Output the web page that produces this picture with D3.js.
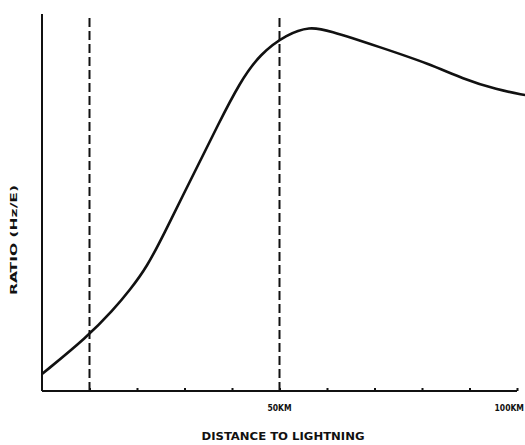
<!DOCTYPE html>
<html><head><meta charset="utf-8">
<script src="https://cdn.jsdelivr.net/npm/d3@7"></script>
<style>body{margin:0;background:#fff}svg{display:block}</style>
</head><body>
<script>
// Data
const distanceKm = [0, 9.5, 15.0, 18.5, 22.1, 25.9, 29.7, 33.3, 36.8, 41.7, 45.9, 51.6, 56.4, 60.0, 71.2, 81.7, 88.6, 95.8, 101.7];
const ratioValues = [4.5, 14.3, 21.5, 26.8, 32.9, 42.2, 52.0, 61.0, 70.0, 82.0, 89.4, 94.7, 96.6, 95.8, 91.2, 86.7, 82.8, 79.9, 78.5];
const tickKm = [10, 20, 30, 40, 50, 60, 70, 80, 90, 100];
const tickLabels = [{km: 50, text: "50KM"}, {km: 100, text: "100KM"}];
const markerKm = [10, 50];
const xTitle = "DISTANCE TO LIGHTNING";
const yTitle = "RATIO  (Hz/E)";

const W = 525, H = 445;
const svg = d3.select("body").append("svg").attr("width", W).attr("height", H);

const x = d3.scaleLinear().domain([0, 100]).range([42, 517]);
const y = d3.scaleLinear().domain([0, 100]).range([391, 14]);

const ink = "#111";

// dashed markers
svg.selectAll("line.marker").data(markerKm).join("line")
  .attr("class", "marker")
  .attr("x1", d => x(d)).attr("x2", d => x(d))
  .attr("y1", y(0)).attr("y2", 18)
  .attr("stroke", ink).attr("stroke-width", 2)
  .attr("stroke-dasharray", "9,4");

// axes
const xAxis = d3.axisBottom(x).tickValues(tickKm).tickSize(-3).tickFormat("");
const gx = svg.append("g").attr("transform", `translate(0,${y(0)})`).call(xAxis);
gx.select(".domain").attr("d", `M${x(0)},0H${x(100)}`).attr("stroke", ink).attr("stroke-width", 2.2);
gx.selectAll(".tick line").attr("stroke", ink).attr("stroke-width", 2);

const yAxis = d3.axisLeft(y).tickValues([]).tickSize(0);
const gy = svg.append("g").attr("transform", `translate(${x(0)},0)`).call(yAxis);
gy.select(".domain").attr("d", `M0,${y(0)}V${y(100)}`).attr("stroke", ink).attr("stroke-width", 2);

// tick labels
svg.selectAll("text.tl").data(tickLabels).join("text")
  .attr("class", "tl")
  .attr("x", d => d.km === 100 ? W - 1 : x(d.km)).attr("y", 411)
  .attr("text-anchor", d => d.km === 100 ? "end" : "middle")
  .attr("font-family", "'DejaVu Sans Condensed', 'DejaVu Sans', sans-serif")
  .attr("font-weight", "bold").attr("font-size", 8.5)
  .attr("fill", ink)
  .text(d => d.text);

// curve
const line = d3.line().x((d, i) => x(distanceKm[i])).y(d => y(d)).curve(d3.curveBasis);
svg.append("path").datum(ratioValues)
  .attr("d", line).attr("fill", "none")
  .attr("stroke", ink).attr("stroke-width", 2.6);

// titles
svg.append("text").attr("x", 283).attr("y", 440)
  .attr("text-anchor", "middle")
  .attr("font-family", "'DejaVu Sans Condensed', 'DejaVu Sans', sans-serif")
  .attr("font-weight", "bold").attr("font-size", 11)
  .attr("textLength", 163).attr("lengthAdjust", "spacingAndGlyphs")
  .attr("fill", ink).text(xTitle);

svg.append("text")
  .attr("transform", "translate(17,240) rotate(-90)")
  .attr("text-anchor", "middle")
  .attr("font-family", "'DejaVu Sans Condensed', 'DejaVu Sans', sans-serif")
  .attr("font-weight", "bold").attr("font-size", 8.5)
  .attr("textLength", 110).attr("lengthAdjust", "spacingAndGlyphs")
  .attr("fill", ink).text(yTitle);
</script>
</body></html>
